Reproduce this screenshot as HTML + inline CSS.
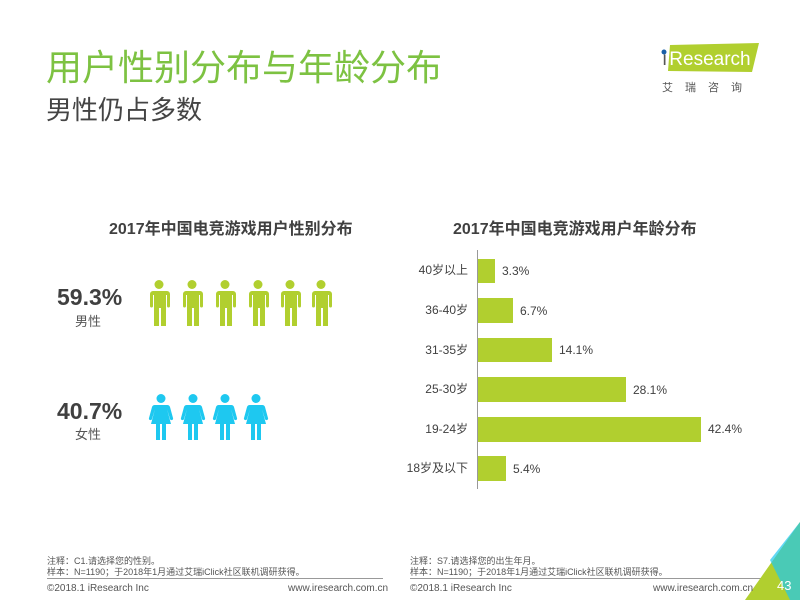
<!DOCTYPE html>
<html><head><meta charset="utf-8"><style>
body{margin:0;width:800px;height:600px;overflow:hidden;background:#fff;font-family:"Liberation Sans","Noto Sans CJK SC",sans-serif;position:relative}
.a{position:absolute;white-space:nowrap}
</style></head><body>
<div class="a" style="left:46px;top:46px;font-size:36px;color:#7dc242;line-height:44px">用户性别分布与年龄分布</div>
<div class="a" style="left:46px;top:94px;font-size:26px;color:#444;line-height:32px">男性仍占多数</div>
<svg class="a" style="left:0;top:0" width="800" height="600">
<defs>
<g id="m"><circle cx="11" cy="4.5" r="4.5"/><path d="M3 11 h16 a3 3 0 0 1 3 3 v12 a1.5 1.5 0 0 1 -3 0 v-11 h-1 v31 h-5 v-18 h-2 v18 h-5 v-31 h-1 v11 a1.5 1.5 0 0 1 -3 0 v-12 a3 3 0 0 1 3 -3z"/></g>
<g id="f"><circle cx="11" cy="4.5" r="4.5"/><path d="M5 11 h12 a3 3 0 0 1 3 2 l3 11 a1.5 1.5 0 0 1 -3 1 l-3 -10 l4 15 h-5 v16 h-4 v-16 h-2 v16 h-4 v-16 h-5 l4 -15 l-3 10 a1.5 1.5 0 0 1 -3 -1 l3 -11 a3 3 0 0 1 3 -2z"/></g>
</defs>
<g fill="#b1cf2f">
<use href="#m" x="148" y="280"/><use href="#m" x="181" y="280"/><use href="#m" x="214" y="280"/><use href="#m" x="247" y="280"/><use href="#m" x="279" y="280"/><use href="#m" x="310" y="280"/>
</g>
<g fill="#1ec8f0">
<use href="#f" x="150" y="394"/><use href="#f" x="182" y="394"/><use href="#f" x="214" y="394"/><use href="#f" x="245" y="394"/>
</g>
<g fill="#b1cf2f">
<rect x="478" y="259" width="17" height="24"/>
<rect x="478" y="298" width="35" height="25"/>
<rect x="478" y="338" width="74" height="24"/>
<rect x="478" y="377" width="148" height="25"/>
<rect x="478" y="417" width="223" height="25"/>
<rect x="478" y="456" width="28" height="25"/>
</g>
<line x1="477.5" y1="250" x2="477.5" y2="489" stroke="#999" stroke-width="1"/>
<line x1="47" y1="578.5" x2="383" y2="578.5" stroke="#999"/>
<line x1="410" y1="578.5" x2="770" y2="578.5" stroke="#999"/>
<polygon points="800,522 800,600 745,600" fill="#b1cf2f"/>
<polygon points="800,522 770,560 790,600 800,600" fill="#1ec8f0" opacity="0.7"/>
<polygon points="670,45 759,43 752,72 668,71" fill="#b1cf2f"/>
<circle cx="664" cy="52" r="2.5" fill="#1a5fa8"/>
</svg>
<div class="a" style="left:662px;top:48px;font-size:19px;color:#555;line-height:24px">ı<span style="color:#fff;margin-left:2px">Research</span></div>
<div class="a" style="left:662px;top:79px;font-size:11px;color:#555;letter-spacing:12px">艾瑞咨询</div>
<div class="a" style="left:109px;top:215px;font-size:16px;font-weight:bold;color:#404040">2017年中国电竞游戏用户性别分布</div>
<div class="a" style="left:453px;top:215px;font-size:16px;font-weight:bold;color:#404040">2017年中国电竞游戏用户年龄分布</div>
<div class="a" style="left:57px;top:284px;font-size:23px;font-weight:bold;color:#404040">59.3%</div>
<div class="a" style="left:75px;top:311px;font-size:13px;color:#555">男性</div>
<div class="a" style="left:57px;top:398px;font-size:23px;font-weight:bold;color:#404040">40.7%</div>
<div class="a" style="left:75px;top:424px;font-size:13px;color:#555">女性</div>
<div class="a" style="right:332px;top:262px;font-size:12px;color:#404040;line-height:16px;text-align:right">40岁以上</div>
<div class="a" style="right:332px;top:302px;font-size:12px;color:#404040;line-height:16px">36-40岁</div>
<div class="a" style="right:332px;top:342px;font-size:12px;color:#404040;line-height:16px">31-35岁</div>
<div class="a" style="right:332px;top:381px;font-size:12px;color:#404040;line-height:16px">25-30岁</div>
<div class="a" style="right:332px;top:421px;font-size:12px;color:#404040;line-height:16px">19-24岁</div>
<div class="a" style="right:332px;top:460px;font-size:12px;color:#404040;line-height:16px">18岁及以下</div>
<div class="a" style="left:502px;top:263px;font-size:12px;color:#404040;line-height:16px">3.3%</div>
<div class="a" style="left:520px;top:303px;font-size:12px;color:#404040;line-height:16px">6.7%</div>
<div class="a" style="left:559px;top:342px;font-size:12px;color:#404040;line-height:16px">14.1%</div>
<div class="a" style="left:633px;top:382px;font-size:12px;color:#404040;line-height:16px">28.1%</div>
<div class="a" style="left:708px;top:421px;font-size:12px;color:#404040;line-height:16px">42.4%</div>
<div class="a" style="left:513px;top:461px;font-size:12px;color:#404040;line-height:16px">5.4%</div>
<div class="a" style="left:47px;top:556px;font-size:9px;color:#555;line-height:11px">注释：C1.请选择您的性别。<br>样本：N=1190；于2018年1月通过艾瑞iClick社区联机调研获得。</div>
<div class="a" style="left:410px;top:556px;font-size:9px;color:#555;line-height:11px">注释：S7.请选择您的出生年月。<br>样本：N=1190；于2018年1月通过艾瑞iClick社区联机调研获得。</div>
<div class="a" style="left:47px;top:583px;font-size:10px;color:#555">©2018.1 iResearch Inc</div>
<div class="a" style="left:288px;top:583px;font-size:10px;color:#555">www.iresearch.com.cn</div>
<div class="a" style="left:410px;top:583px;font-size:10px;color:#555">©2018.1 iResearch Inc</div>
<div class="a" style="left:653px;top:583px;font-size:10px;color:#555">www.iresearch.com.cn</div>
<div class="a" style="left:777px;top:578px;font-size:13px;color:#fff">43</div>
</body></html>
